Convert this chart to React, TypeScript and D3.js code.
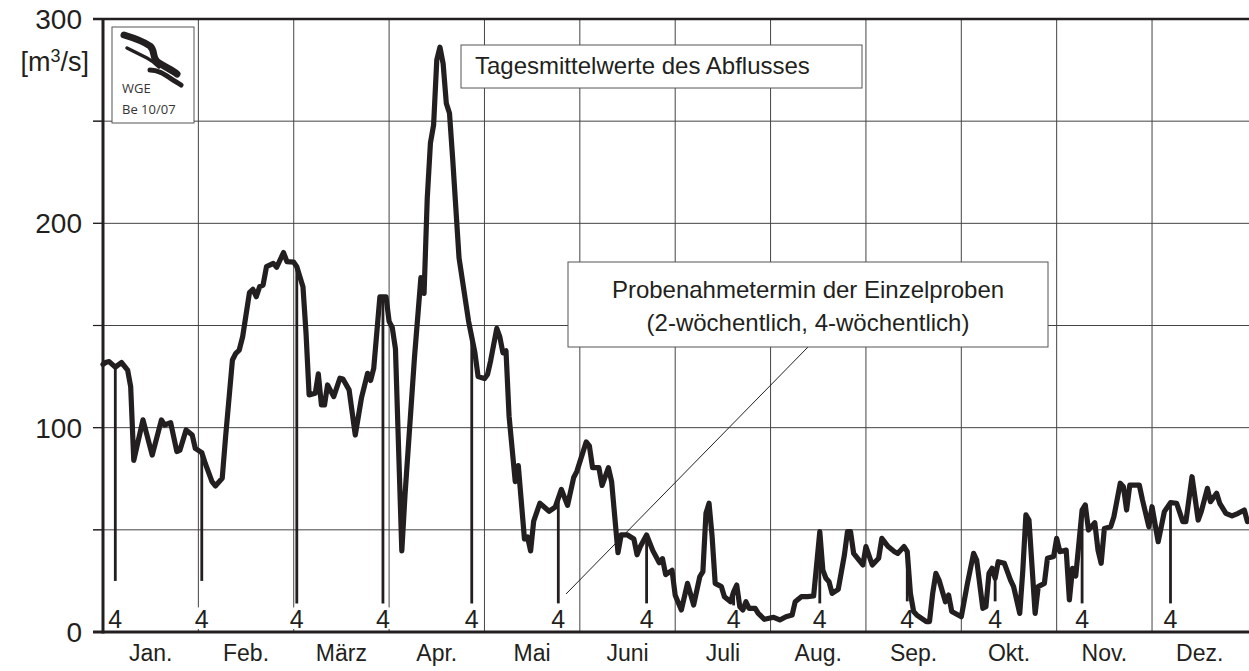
import React from 'react'
import * as d3 from 'd3'

// day of year (0 = 1 Jan) and daily mean discharge [m3/s]
const flowDays = [
  0, 1, 2, 4, 6, 8, 9, 10, 13, 16, 19, 20, 22, 24, 25, 27, 29, 30,
  32, 33, 35, 36, 38, 39, 41, 42, 43, 44, 46, 47, 48, 49, 50, 51, 53, 54, 56, 57, 59,
  60, 62, 63, 64, 66, 67, 68, 69, 70, 72, 74, 75, 77, 79, 81, 83, 84, 85, 87, 89,
  90, 91, 92, 94, 95, 98, 100, 101, 102, 103, 104, 105, 106, 107, 108, 109, 110, 112, 115, 117, 118,
  120, 121, 122, 124, 125, 126, 127, 128, 130, 131, 133, 134, 135, 136, 138, 141, 143, 145, 147, 149, 150,
  153, 154, 155, 157, 158, 160, 161, 163, 164, 166, 168, 169, 170, 172, 174, 176, 177, 178, 180,
  181, 183, 185, 187, 189, 190, 191, 192, 193, 194, 196, 197, 199, 200, 201, 202, 203, 204, 205, 207, 208, 210,
  213, 215, 217, 219, 220, 222, 224, 226, 228, 229, 230, 231, 232, 234, 236, 237, 238, 239, 242,
  243, 245, 247, 248, 250, 252, 253, 254, 255, 256, 257, 258, 259, 262, 263, 264, 265, 266, 268, 269, 270, 272,
  273, 275, 277, 278, 280, 281, 282, 283, 284, 285, 287, 289, 290, 292, 293, 294, 295, 297, 298, 300, 301, 303,
  304, 305, 307, 308, 309, 310, 312, 313, 314, 316, 317, 318, 319, 321, 322, 324, 325, 326, 327, 330, 331, 333,
  334, 336, 338, 340, 342, 344, 345, 347, 349, 350, 352, 353, 355, 356, 358, 360, 362, 364, 365
]
const flowValues = [
  131, 132, 132.3, 129.6, 131.9, 128.2, 120, 84, 103.8, 86.6, 103.8, 101.3, 102.4, 88.3, 89, 98.9, 96.4, 89.9,
  87.8, 82.6, 73.6, 71.5, 75.2, 95.6, 133.1, 136.4, 138, 144.5, 166.1, 167.7, 164.1, 169, 169.8, 178.8, 180.4, 178.5, 185.7, 181.3, 181,
  178.8, 169, 146.2, 116, 116.8, 126.3, 111.1, 111.1, 120.9, 115.2, 124.2, 123.8, 118.5, 96.4, 114.4, 126.6, 123.1, 129, 164, 164,
  152, 149, 138.6, 39.7, 66.9, 134.7, 173.4, 165.7, 212.2, 239.3, 248.1, 280, 286.2, 278.1, 258.7, 253.9, 231.6, 183.1, 152.1, 136.6, 125,
  124, 126, 132.7, 148.6, 144.4, 136.6, 137.6, 105.6, 73.6, 81.4, 45.5, 46.5, 39.7, 54.3, 63, 59.1, 61.1, 69.8, 62, 75.6, 78.5,
  93, 91.1, 80.4, 80.4, 71.7, 80.4, 73.6, 38.8, 47.5, 47.5, 45.5, 37.8, 41.7, 47.5, 39.7, 33.9, 35.9, 28.1, 30.2,
  18, 10.8, 23.8, 13.2, 27.1, 29.5, 58.1, 63, 46.7, 23.8, 22.2, 17.3, 14.8, 19.7, 23, 12.4, 10.8, 14.8, 11.6, 11.6, 9.1, 6.2,
  7.2, 5.9, 7.5, 8.3, 14.8, 17.3, 17.3, 17.6, 49.1, 30.3, 26.3, 24.6, 18.9, 20.9, 37.7, 49.1, 49.1, 38.5, 32.8,
  41.8, 32.8, 36.1, 45.8, 41.8, 39.3, 38.5, 40.1, 41.8, 39.3, 18.9, 10, 8.3, 5.1, 5.1, 18.9, 28.7, 25.4, 14.8, 18.1, 10, 8.3,
  7.5, 23.8, 38.5, 35.2, 11.6, 12.4, 28.7, 31.2, 26.3, 34.4, 33.6, 25.4, 22.2, 9.1, 30.3, 57.3, 54.8, 9.1, 22.2, 23.8, 36.1, 36.9,
  45.8, 39.3, 40.1, 15.7, 31.2, 27.4, 59.7, 62.2, 49.9, 53.5, 40.1, 33.6, 50.7, 51.5, 56.4, 72.8, 71.1, 59.7, 71.9, 71.9, 64.6, 51.5,
  61.3, 44.2, 58.9, 63.3, 63, 54, 54, 76, 54.8, 58.9, 70.3, 63.8, 67.9, 63, 58.1, 56.8, 58.1, 59.7, 54
]

// 4-weekly sampling dates (day of year) and the lower end of their markers
const sampleDays = [4, 32, 60, 88, 116, 144, 172, 200, 228, 256, 284, 312, 340]
const sampleLow = [25, 25, 14, 14, 14, 14, 14, 13, 14, 15, 15, 14, 14]
const sampleLabel = '4'

const monthStarts = [0, 31, 59, 90, 120, 151, 181, 212, 243, 273, 304, 334, 365]
const monthNames = ['Jan.', 'Feb.', 'März', 'Apr.', 'Mai', 'Juni', 'Juli', 'Aug.', 'Sep.', 'Okt.', 'Nov.', 'Dez.']
const yTicks = [0, 50, 100, 150, 200, 250, 300]
const yLabels = [0, 100, 200, 300]

const W = 1249
const H = 671
const margin = {top: 19, right: 1.6, bottom: 39, left: 103}
const font = '"Liberation Sans", Arial, Helvetica, sans-serif'
const ink = '#231f20'

export default function App() {
  const plotR = W - margin.right
  const plotB = H - margin.bottom
  const step = (plotR - margin.left) / 12
  const x = d3
    .scaleLinear()
    .domain(monthStarts)
    .range(monthStarts.map((_, i) => margin.left + i * step))
  const y = d3.scaleLinear().domain([0, 300]).range([plotB, margin.top])

  const flow: [number, number][] = flowDays.map((d, i) => [d, flowValues[i]])
  const line = d3
    .line<[number, number]>()
    .x(d => x(d[0]))
    .y(d => y(d[1]))
  const bis = d3.bisector((d: [number, number]) => d[0]).left
  const flowAt = (day: number) => {
    const i = bis(flow, day)
    if (i <= 0) return flow[0][1]
    const a = flow[i - 1]
    const b = flow[i]
    return a[1] + ((day - a[0]) / (b[0] - a[0])) * (b[1] - a[1])
  }

  return (
    <svg width={W} height={H} style={{position: 'absolute', left: 0, top: 0, background: '#fff'}} fontFamily={font}>
      {/* grid */}
      {yTicks.filter(t => t > 0 && t < 300).map(t => (
        <line key={'h' + t} x1={margin.left - 10} x2={W} y1={y(t)} y2={y(t)} stroke="#444" strokeWidth={1} />
      ))}
      {monthStarts.slice(1, 12).map(d => (
        <line key={'v' + d} x1={x(d)} x2={x(d)} y1={margin.top} y2={plotB} stroke="#444" strokeWidth={1} />
      ))}
      {yTicks.map(t => (
        <line key={'t' + t} x1={margin.left - 10} x2={margin.left} y1={y(t)} y2={y(t)} stroke={ink} strokeWidth={1.2} />
      ))}

      {/* sample markers */}
      {sampleDays.map((d, i) => (
        <g key={'s' + d}>
          <rect x={x(d) - 9} y={y(13) + 2} width={18} height={plotB - y(13) - 5} fill="#fff" />
          <line x1={x(d)} x2={x(d)} y1={y(flowAt(d))} y2={y(sampleLow[i])} stroke={ink} strokeWidth={2.8} />
          <text x={x(d)} y={plotB - 4} textAnchor="middle" fontSize={25} fill={ink}>{sampleLabel}</text>
        </g>
      ))}

      {/* discharge curve */}
      <path d={line(flow) || ''} fill="none" stroke={ink} strokeWidth={5.2} strokeLinejoin="round" strokeLinecap="round" />

      {/* frame */}
      <line x1={margin.left - 10} x2={W} y1={margin.top} y2={margin.top} stroke={ink} strokeWidth={2.5} />
      <line x1={margin.left} x2={margin.left} y1={margin.top - 1} y2={plotB + 1.5} stroke={ink} strokeWidth={3} />
      <line x1={margin.left - 10} x2={W} y1={plotB} y2={plotB} stroke={ink} strokeWidth={3} />

      {/* y labels */}
      {yLabels.map(t => (
        <text key={'yl' + t} x={82} y={y(t) + 10} textAnchor="end" fontSize={28} fill={ink}>{t}</text>
      ))}
      <text x={89} y={71} textAnchor="end" fontSize={27} fill={ink}>
        [m<tspan dy={-9} fontSize={18}>3</tspan><tspan dy={9}>/s]</tspan>
      </text>

      {/* month labels */}
      {monthNames.map((m, i) => (
        <text key={m} x={(x(monthStarts[i]) + x(monthStarts[i + 1])) / 2} y={plotB + 29} textAnchor="middle" fontSize={23} fill={ink}>{m}</text>
      ))}

      {/* logo box */}
      <rect x={112} y={27} width={82} height={96} fill="#fff" stroke="#555" strokeWidth={1} />
      <path d="M124,35 C134,38 143,41 150,46 C156,51 151,58 159,63 C167,68 172,70 177,74" fill="none" stroke={ink} strokeWidth={7} strokeLinecap="round" />
      <path d="M127,48 C135,52 141,55 147,58 C153,61 156,64 159,67" fill="none" stroke={ink} strokeWidth={3.5} strokeLinecap="round" />
      <path d="M150,70 C158,70 164,74 170,78 C174,81 178,83 181,85" fill="none" stroke={ink} strokeWidth={5} strokeLinecap="round" />
      <text x={122} y={93} fontSize={13} fill="#333" fontFamily='"Open Sans", sans-serif'>WGE</text>
      <text x={122} y={114} fontSize={13} fill="#333" fontFamily='"Open Sans", sans-serif'>Be 10/07</text>

      {/* annotation: curve */}
      <rect x={461} y={45} width={401} height={43} fill="#fff" stroke="#555" strokeWidth={1} />
      <text x={475} y={74} fontSize={24} fill={ink}>Tagesmittelwerte des Abflusses</text>

      {/* annotation: samples */}
      <line x1={808} y1={347} x2={566} y2={594} stroke={ink} strokeWidth={1} />
      <rect x={568} y={262} width={480} height={85} fill="#fff" stroke="#555" strokeWidth={1} />
      <text x={808} y={298} textAnchor="middle" fontSize={24} fill={ink}>Probenahmetermin der Einzelproben</text>
      <text x={808} y={331} textAnchor="middle" fontSize={24} fill={ink}>(2-wöchentlich, 4-wöchentlich)</text>
    </svg>
  )
}
